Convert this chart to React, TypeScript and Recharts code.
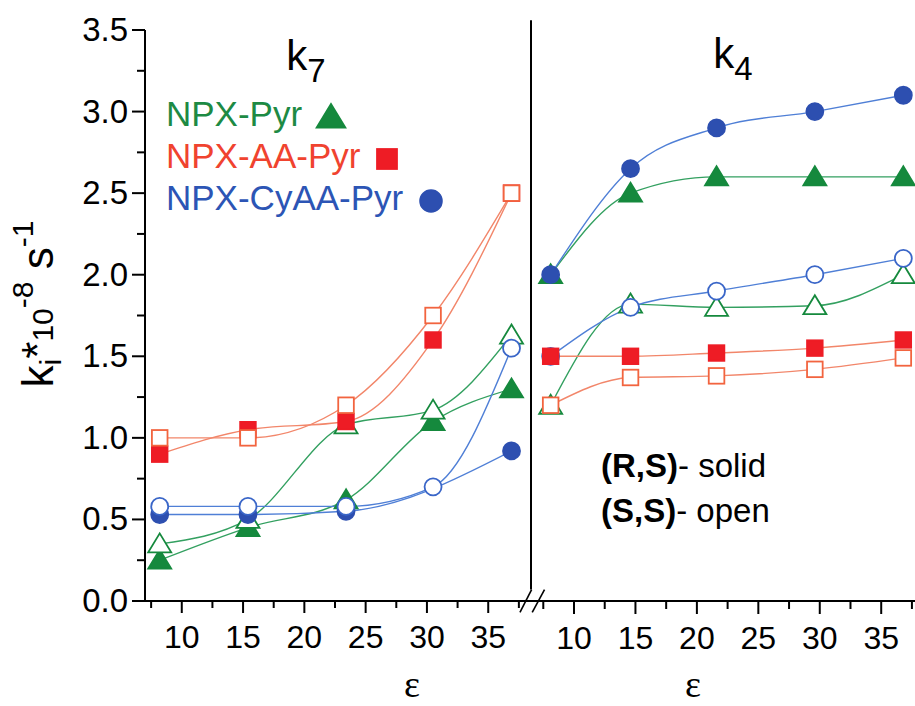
import React from 'react';
import { ComposedChart, Line, XAxis, YAxis, ReferenceLine } from 'recharts';

// dielectric constants (x positions)
const epsK7 = [8.2, 15.4, 23.4, 30.5, 36.9];
const epsK4 = [8.1, 14.6, 21.6, 29.6, 36.8];

// k7 panel (left)
const k7PyrRS = [0.25, 0.45, 0.62, 1.1, 1.3];
const k7PyrSS = [0.35, 0.5, 1.08, 1.17, 1.63];
const k7AARS = [0.9, 1.05, 1.1, 1.6, 2.5];
const k7AASS = [1.0, 1.0, 1.2, 1.75, 2.5];
const k7CyRS = [0.53, 0.53, 0.55, null, 0.92];
const k7CySS = [0.58, 0.58, 0.58, 0.7, 1.55];

// k4 panel (right)
const k4PyrRS = [2.0, 2.5, 2.6, 2.6, 2.6];
const k4PyrSS = [1.2, 1.82, 1.8, 1.81, 2.0];
const k4AARS = [1.5, 1.5, 1.52, 1.55, 1.6];
const k4AASS = [1.2, 1.37, 1.38, 1.42, 1.49];
const k4CyRS = [2.0, 2.65, 2.9, 3.0, 3.1];
const k4CySS = [1.5, 1.8, 1.9, 2.0, 2.1];

const xTicks = [7.5, 10, 12.5, 15, 17.5, 20, 22.5, 25, 27.5, 30, 32.5, 35, 37.5];
const yTicks = [0, 0.25, 0.5, 0.75, 1, 1.25, 1.5, 1.75, 2, 2.25, 2.5, 2.75, 3, 3.25, 3.5];

const legendItems = [
  { label: 'NPX-Pyr', shape: 'tri' },
  { label: 'NPX-AA-Pyr', shape: 'sq' },
  { label: 'NPX-CyAA-Pyr', shape: 'circ' },
];

const FONT = 'Arial, "Liberation Sans", Helvetica, sans-serif';

const COL = {
  tri: { mark: '#15893d', line: '#33a060', text: '#1d8a44' },
  sq: { mark: '#ee1c25', open: '#f2643f', line: '#f2866a', text: '#f0432f' },
  circ: { mark: '#2d4fb0', open: '#3a66c8', line: '#4f7fd6', text: '#2c55b5' },
};

function Marker({ cx, cy, shape, filled, size = 1 }: any) {
  if (cx == null || cy == null) return null;
  const c: any = (COL as any)[shape];
  const stroke = filled ? c.mark : c.open || c.mark;
  const fill = filled ? c.mark : '#fff';
  const sw = 1.8;
  if (shape === 'tri') {
    const hw = 11.5 * size;
    const top = 10.5 * size;
    const bot = 8.5 * size;
    return (
      <polygon
        points={`${cx},${cy - top} ${cx - hw},${cy + bot} ${cx + hw},${cy + bot}`}
        fill={fill}
        stroke={stroke}
        strokeWidth={sw}
      />
    );
  }
  if (shape === 'sq') {
    const h = 7.8 * size;
    return <rect x={cx - h} y={cy - h} width={2 * h} height={2 * h} fill={fill} stroke={stroke} strokeWidth={sw} />;
  }
  return <circle cx={cx} cy={cy} r={8.5 * size} fill={fill} stroke={stroke} strokeWidth={sw} />;
}

const toPts = (xs: number[], ys: (number | null)[]) =>
  xs.map((x, i) => ({ x, y: ys[i] })).filter((p) => p.y != null);

const series = [
  { id: 'k7PyrRS', axis: 'L', xs: epsK7, ys: k7PyrRS, shape: 'tri', filled: true },
  { id: 'k7PyrSS', axis: 'L', xs: epsK7, ys: k7PyrSS, shape: 'tri', filled: false },
  { id: 'k4PyrRS', axis: 'R', xs: epsK4, ys: k4PyrRS, shape: 'tri', filled: true },
  { id: 'k4PyrSS', axis: 'R', xs: epsK4, ys: k4PyrSS, shape: 'tri', filled: false },
  { id: 'k7CyRS', axis: 'L', xs: epsK7, ys: k7CyRS, shape: 'circ', filled: true },
  { id: 'k7CySS', axis: 'L', xs: epsK7, ys: k7CySS, shape: 'circ', filled: false },
  { id: 'k4CyRS', axis: 'R', xs: epsK4, ys: k4CyRS, shape: 'circ', filled: true },
  { id: 'k4CySS', axis: 'R', xs: epsK4, ys: k4CySS, shape: 'circ', filled: false },
  { id: 'k7AARS', axis: 'L', xs: epsK7, ys: k7AARS, shape: 'sq', filled: true },
  { id: 'k7AASS', axis: 'L', xs: epsK7, ys: k7AASS, shape: 'sq', filled: false },
  { id: 'k4AARS', axis: 'R', xs: epsK4, ys: k4AARS, shape: 'sq', filled: true },
  { id: 'k4AASS', axis: 'R', xs: epsK4, ys: k4AASS, shape: 'sq', filled: false },
];

const XTick = (props: any) => {
  const { x, y, payload } = props;
  const v = payload.value;
  const major = Math.abs(v % 5) < 1e-6;
  return (
    <g>
      <line x1={x} x2={x} y1={y} y2={y + (major ? 12 : 7)} stroke="#000" strokeWidth={2} />
      {major && (
        <text x={x} y={y + 47} textAnchor="middle" fontSize={32} fontFamily={FONT} fill="#000">
          {v}
        </text>
      )}
    </g>
  );
};

const YTick = (props: any) => {
  const { x, y, payload } = props;
  const v = payload.value;
  const major = Math.abs((v * 2) % 1) < 1e-6;
  return (
    <g>
      <line x1={x - (major ? 13 : 8)} x2={x} y1={y} y2={y} stroke="#000" strokeWidth={2} />
      {major && (
        <text x={x - 17} y={y + 11} textAnchor="end" fontSize={33} fontFamily={FONT} fill="#000">
          {v.toFixed(1)}
        </text>
      )}
    </g>
  );
};

export default function App() {
  return (
    <div style={{ position: 'absolute', left: 0, top: 0, width: 915, height: 706, background: '#fff', overflow: 'hidden' }}>
      <ComposedChart width={915} height={706} margin={{ top: 30, right: 0, left: 0, bottom: 103 }}>
        <XAxis
          xAxisId="L"
          type="number"
          dataKey="x"
          domain={[7, 38]}
          ticks={xTicks}
          interval={0}
          height={1}
          padding={{ left: 0, right: 390 }}
          tickSize={0}
          tickMargin={0}
          tickLine={false}
          axisLine={{ stroke: '#000', strokeWidth: 2 }}
          tick={<XTick />}
        />
        <XAxis
          xAxisId="R"
          type="number"
          dataKey="x"
          domain={[6.5, 37.75]}
          ticks={xTicks}
          interval={0}
          height={1}
          padding={{ left: 386, right: 0 }}
          tickSize={0}
          tickMargin={0}
          tickLine={false}
          axisLine={false}
          tick={<XTick />}
        />
        <YAxis
          type="number"
          domain={[0, 3.5]}
          ticks={yTicks}
          interval={0}
          width={145}
          tickSize={0}
          tickMargin={0}
          tickLine={false}
          axisLine={{ stroke: '#000', strokeWidth: 2 }}
          tick={<YTick />}
        />
        <ReferenceLine
          xAxisId="R"
          segment={[{ x: 6.5, y: 0.07 }, { x: 6.5, y: 3.56 }]}
          stroke="#000"
          strokeWidth={2}
          ifOverflow="visible"
        />
        <ReferenceLine
          xAxisId="R"
          segment={[{ x: 5.6, y: -0.07 }, { x: 6.55, y: 0.07 }]}
          stroke="#000"
          strokeWidth={1.6}
          ifOverflow="visible"
        />
        <ReferenceLine
          xAxisId="R"
          segment={[{ x: 6.6, y: -0.07 }, { x: 7.6, y: 0.07 }]}
          stroke="#000"
          strokeWidth={1.6}
          ifOverflow="visible"
        />
        {series.map((s) => (
          <Line
            key={s.id}
            xAxisId={s.axis}
            data={toPts(s.xs, s.ys)}
            dataKey="y"
            type="monotone"
            stroke={(COL as any)[s.shape].line}
            strokeWidth={1.4}
            isAnimationActive={false}
            dot={(p: any) => (
              <Marker key={`${s.id}-${p.index}`} cx={p.cx} cy={p.cy} shape={s.shape} filled={s.filled} />
            )}
            activeDot={false}
          />
        ))}
      </ComposedChart>
      <svg
        width={915}
        height={706}
        style={{ position: 'absolute', left: 0, top: 0, pointerEvents: 'none' }}
        fontFamily={FONT}
      >
        <text transform="translate(53,304) rotate(-90)" textAnchor="middle" fontSize={44} fill="#000">
          <tspan>k</tspan>
          <tspan fontSize={30} dy={8}>i</tspan>
          <tspan dy={-8}>*</tspan>
          <tspan fontSize={30}>10</tspan>
          <tspan fontSize={30} dy={-20}>-8</tspan>
          <tspan dy={20}> s</tspan>
          <tspan fontSize={30} dy={-20}>-1</tspan>
        </text>
        <text x={306} y={70} textAnchor="middle" fontSize={42} fill="#000">
          <tspan>k</tspan>
          <tspan fontSize={33} dy={12}>7</tspan>
        </text>
        <text x={733} y={68} textAnchor="middle" fontSize={42} fill="#000">
          <tspan>k</tspan>
          <tspan fontSize={33} dy={12}>4</tspan>
        </text>
        {legendItems.map((it, i) => {
          const base = 126 + i * 42;
          const c: any = (COL as any)[it.shape];
          const mx = it.shape === 'tri' ? 331 : it.shape === 'sq' ? 387 : 431;
          return (
            <g key={it.label}>
              <text x={166} y={base} fontSize={35} fill={c.text}>
                {it.label}
              </text>
              <Marker cx={mx} cy={base - 9} shape={it.shape} filled size={it.shape === 'tri' ? 1.25 : 1.28} />
            </g>
          );
        })}
        <text x={601} y={477} fontSize={33} fill="#000">
          <tspan fontWeight="bold">(R,S)</tspan>
          <tspan>- solid</tspan>
        </text>
        <text x={601} y={522} fontSize={33} fill="#000">
          <tspan fontWeight="bold">(S,S)</tspan>
          <tspan>- open</tspan>
        </text>
        <text x={412} y={697} textAnchor="middle" fontSize={38} fontFamily='"Liberation Serif", "DejaVu Serif", serif' fill="#000">
          ε
        </text>
        <text x={693} y={697} textAnchor="middle" fontSize={38} fontFamily='"Liberation Serif", "DejaVu Serif", serif' fill="#000">
          ε
        </text>
      </svg>
    </div>
  );
}
